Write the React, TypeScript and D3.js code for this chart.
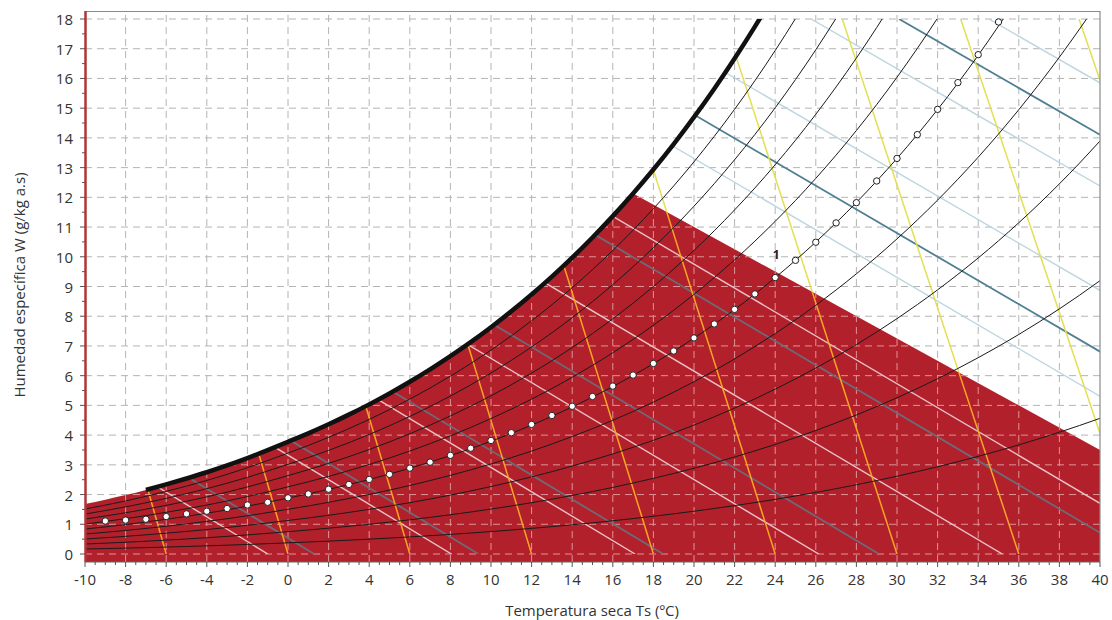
import React from "react";
import * as d3 from "d3";

// ---------- data ----------
const TEMP_TICKS = [-10, -8, -6, -4, -2, 0, 2, 4, 6, 8, 10, 12, 14, 16, 18, 20, 22, 24, 26, 28, 30, 32, 34, 36, 38, 40];
const W_TICKS = [0, 1, 2, 3, 4, 5, 6, 7, 8, 9, 10, 11, 12, 13, 14, 15, 16, 17, 18];

// dry-bulb temperature nodes (°C) and saturation vapour pressure (kPa) at each node
const TEMPS = [-10, -9, -8, -7, -6, -5, -4, -3, -2, -1, 0, 1, 2, 3, 4, 5, 6, 7, 8, 9, 10, 11, 12, 13, 14, 15, 16, 17, 18, 19, 20, 21, 22, 23, 24, 25, 26, 27, 28, 29, 30, 31, 32, 33, 34, 35, 36, 37, 38, 39, 40];
const SAT_PRESSURE = [0.273, 0.297, 0.322, 0.35, 0.38, 0.412, 0.446, 0.483, 0.523, 0.566, 0.6112, 0.6571, 0.706, 0.7581, 0.8135, 0.8725, 0.9353, 1.002, 1.0729, 1.1481, 1.2281, 1.3129, 1.4027, 1.4979, 1.5988, 1.7056, 1.8185, 1.938, 2.0644, 2.1978, 2.3388, 2.4877, 2.6447, 2.8104, 2.985, 3.169, 3.3629, 3.567, 3.7818, 4.0078, 4.2455, 4.4953, 4.7578, 5.0335, 5.3229, 5.6267, 5.9453, 6.2795, 6.6298, 6.9969, 7.3814];

// relative humidity curves (%)
const RH_LEVELS = [10, 20, 30, 40, 50, 60, 70, 80, 90];
// wet-bulb lines (°C) - dark
const WB_LEVELS = [-5, 0, 5, 10, 15, 20, 25];
// enthalpy lines (kJ/kg) - light
const ENTHALPY_LEVELS = [-1, 8.1, 17.2, 26.3, 35.4, 44.5, 53.6, 62.7, 71.8, 80.9];
// specific-volume lines: dry-bulb temperature where they meet W = 0
const VOLUME_BASE_T = [-6, 0, 6, 12, 18, 24, 30, 36, 42, 48];

// process points (°C, g/kg)
const DOT_T = [-9, -8, -7, -6, -5, -4, -3, -2, -1, 0, 1, 2, 3, 4, 5, 6, 7, 8, 9, 10, 11, 12, 13, 14, 15, 16, 17, 18, 19, 20, 21, 22, 23, 24, 25, 26, 27, 28, 29, 30, 31, 32, 33, 34, 35];
const DOT_W = [1.11, 1.14, 1.17, 1.26, 1.35, 1.44, 1.53, 1.65, 1.74, 1.89, 2.02, 2.18, 2.34, 2.51, 2.68, 2.89, 3.09, 3.32, 3.56, 3.82, 4.08, 4.36, 4.66, 4.97, 5.3, 5.65, 6.02, 6.41, 6.83, 7.27, 7.74, 8.23, 8.75, 9.3, 9.88, 10.49, 11.14, 11.82, 12.55, 13.31, 14.11, 14.96, 15.86, 16.8, 17.9];
const POINT_LABEL_T = 24;
const POINT_LABEL_TEXT = "1";

// red zone: bounded by saturation up to this temperature, then a straight edge to the right border
const ZONE_APEX_T = 17;
const ZONE_RIGHT_W = 3.5;

// ---------- layout ----------
const WIDTH = 1112;
const HEIGHT = 620;
const LEFT = 85;
const RIGHT = 1100;
const TOP = 11;
const BOTTOM = 562;
const FONT = "'Open Sans', 'DejaVu Sans', sans-serif";

const x = d3.scaleLinear().domain([-10, 40]).range([LEFT, RIGHT]);
const y = d3.scaleLinear().domain([0, 18]).range([554, 19]);

const P_ATM = 101.325;
const wFromPw = (pw: number) => (622 * pw) / (P_ATM - pw);
const pwsAt = (t: number) => SAT_PRESSURE[TEMPS.indexOf(t)];
const satW = (t: number) => wFromPw(pwsAt(t));

const curve = d3
  .line<[number, number]>()
  .x((d) => x(d[0]))
  .y((d) => y(d[1]))
  .curve(d3.curveMonotoneX);
const straight = d3
  .line<[number, number]>()
  .x((d) => x(d[0]))
  .y((d) => y(d[1]));

// saturation polyline pieces
const satTo17 = TEMPS.filter((t) => t <= ZONE_APEX_T).map((t) => [t, satW(t)] as [number, number]);
const satTo24 = TEMPS.filter((t) => t <= 24).map((t) => [t, satW(t)] as [number, number]);
const satThick = TEMPS.filter((t) => t >= -7 && t <= 24).map((t) => [t, satW(t)] as [number, number]);

const redD =
  `M${x(-10)},${BOTTOM}L` +
  (curve(satTo17) as string).slice(1) +
  `L${x(40)},${y(ZONE_RIGHT_W)}L${x(40)},${BOTTOM}Z`;
const unsatD =
  `M${x(-10)},${BOTTOM + 5}L` +
  (curve(satTo24) as string).slice(1) +
  `L${x(40) + 5},${y(satW(24))}L${x(40) + 5},${BOTTOM + 5}Z`;
const nonRedD = `M${LEFT - 5},${TOP - 5}H${RIGHT + 5}V${BOTTOM + 5}H${LEFT - 5}Z` + redD;

// straight line segments between W = 0 and W = 18
const enthalpySeg = (h: number): [number, number][] => [
  [h / 1.006, 0],
  [(h - 0.018 * 2501) / (1.006 + 0.018 * 1.86), 18],
];
const hSat = (t: number) => {
  const w = satW(t) / 1000;
  return 1.006 * t + w * (2501 + 1.86 * t);
};
const volumeSeg = (t0: number): [number, number][] => [
  [t0, 0],
  [(t0 + 273.15) / (1 + 1.6078 * 0.018) - 273.15, 18],
];

const enthalpyPaths = ENTHALPY_LEVELS.map((h) => straight(enthalpySeg(h)) as string);
const wbPaths = WB_LEVELS.map((t) => straight(enthalpySeg(hSat(t))) as string);
const volumePaths = VOLUME_BASE_T.map((t0) => straight(volumeSeg(t0)) as string);
const rhPaths = RH_LEVELS.map(
  (rh) => curve(TEMPS.map((t) => [t, wFromPw((rh / 100) * pwsAt(t))] as [number, number])) as string
);

const xMinor = d3.range(-10, 40.01, 0.5);
const yMinor = d3.range(0, 18.01, 0.5);

function LineSet({ variant }: { variant: "red" | "white" }) {
  const inRed = variant === "red";
  return (
    <g>
      {enthalpyPaths.map((d, i) => (
        <path key={"h" + i} d={d} fill="none" stroke={inRed ? "#e9c3c9" : "#bcd5df"} strokeWidth={1.4} />
      ))}
      {wbPaths.map((d, i) => (
        <path key={"w" + i} d={d} fill="none" stroke={inRed ? "#6e6a77" : "#4f7f93"} strokeWidth={1.8} />
      ))}
      {volumePaths.map((d, i) => (
        <path key={"v" + i} d={d} fill="none" stroke={inRed ? "#f6a623" : "#e4df52"} strokeWidth={1.5} />
      ))}
    </g>
  );
}

export default function App() {
  const dots = DOT_T.map((t, i) => ({ t, w: DOT_W[i] }));
  const labelDot = dots.find((d) => d.t === POINT_LABEL_T)!;
  return (
    <div style={{ position: "absolute", left: 0, top: 0 }}>
      <svg width={WIDTH} height={HEIGHT} style={{ display: "block", background: "#fff" }}>
        <defs>
          <clipPath id="lineArea">
            <rect x={LEFT} y={y(18)} width={RIGHT - LEFT} height={y(0) - y(18)} />
          </clipPath>
          <clipPath id="unsat">
            <path d={unsatD} />
          </clipPath>
          <clipPath id="red">
            <path d={redD} />
          </clipPath>
          <clipPath id="nonred">
            <path d={nonRedD} clipRule="evenodd" />
          </clipPath>
        </defs>

        {/* grid (white area) */}
        <g stroke="#b4b4b4" strokeWidth={1} strokeDasharray="7,5">
          {TEMP_TICKS.filter((t) => t > -10 && t < 40).map((t) => (
            <line key={"gx" + t} x1={x(t)} x2={x(t)} y1={TOP + 4} y2={BOTTOM} />
          ))}
          {W_TICKS.map((w) => (
            <line key={"gy" + w} x1={LEFT} x2={RIGHT} y1={y(w)} y2={y(w)} />
          ))}
        </g>

        {/* red zone */}
        <path d={redD} fill="#b2202b" />

        {/* grid inside red zone */}
        <g clipPath="url(#red)" stroke="#dc9499" strokeWidth={1} strokeDasharray="7,5">
          {TEMP_TICKS.filter((t) => t > -10 && t < 40).map((t) => (
            <line key={"rx" + t} x1={x(t)} x2={x(t)} y1={TOP + 4} y2={BOTTOM} />
          ))}
          {W_TICKS.map((w) => (
            <line key={"ry" + w} x1={LEFT} x2={RIGHT} y1={y(w)} y2={y(w)} />
          ))}
        </g>

        {/* enthalpy, wet-bulb and specific volume lines */}
        <g clipPath="url(#lineArea)">
          <g clipPath="url(#unsat)">
            <g clipPath="url(#nonred)">
              <LineSet variant="white" />
            </g>
            <g clipPath="url(#red)">
              <LineSet variant="red" />
            </g>
          </g>
        </g>

        {/* relative humidity curves */}
        <g clipPath="url(#lineArea)">
          {rhPaths.map((d, i) => (
            <path key={"rh" + i} d={d} fill="none" stroke="#1a1a1a" strokeWidth={1} />
          ))}
          <path d={curve(satThick) as string} fill="none" stroke="#111" strokeWidth={4.5} />
        </g>

        {/* process points */}
        {dots.map((d) => (
          <circle key={"d" + d.t} cx={x(d.t)} cy={y(d.w)} r={3.2} fill="#fff" stroke="#222" strokeWidth={1} />
        ))}
        <text
          x={x(labelDot.t) + 1}
          y={y(labelDot.w) - 19}
          textAnchor="middle"
          fontFamily={FONT}
          fontWeight={700}
          fontSize={12}
          fill="#222"
        >
          {POINT_LABEL_TEXT}
        </text>

        {/* frame */}
        <line x1={LEFT} x2={RIGHT} y1={TOP + 0.5} y2={TOP + 0.5} stroke="#8a8a8a" strokeWidth={1.2} />
        <line x1={RIGHT} x2={RIGHT} y1={TOP} y2={BOTTOM} stroke="#8a8a8a" strokeWidth={1.2} />

        {/* x axis */}
        <line x1={LEFT} x2={RIGHT} y1={BOTTOM} y2={BOTTOM} stroke="#666" strokeWidth={1.2} />
        {xMinor.map((t) => {
          const major = Math.abs(t / 2 - Math.round(t / 2)) < 1e-6;
          return (
            <line key={"xt" + t} x1={x(t)} x2={x(t)} y1={BOTTOM} y2={BOTTOM + (major ? 5 : 3)} stroke="#555" strokeWidth={1} />
          );
        })}
        {TEMP_TICKS.map((t) => (
          <text
            key={"xl" + t}
            x={x(t)}
            y={579}
            textAnchor="middle"
            dominantBaseline="central"
            fontFamily={FONT}
            fontSize={15}
            fill="#333"
          >
            {String(t)}
          </text>
        ))}
        <text x={592} y={610} textAnchor="middle" dominantBaseline="central" fontFamily={FONT} fontSize={15} fill="#333">
          Temperatura seca Ts (ºC)
        </text>

        {/* y axis */}
        {yMinor.map((w) => {
          const major = Math.abs(w - Math.round(w)) < 1e-6;
          return (
            <line key={"yt" + w} x1={LEFT - (major ? 5 : 3)} x2={LEFT} y1={y(w)} y2={y(w)} stroke="#555" strokeWidth={1} />
          );
        })}
        <line x1={LEFT + 0.5} x2={LEFT + 0.5} y1={TOP} y2={BOTTOM} stroke="#b0343a" strokeWidth={2.5} />
        {W_TICKS.map((w) => (
          <text
            key={"yl" + w}
            x={73}
            y={y(w)}
            textAnchor="end"
            dominantBaseline="central"
            fontFamily={FONT}
            fontSize={15}
            fill="#333"
          >
            {String(w)}
          </text>
        ))}
        <text
          transform={`translate(19,${285}) rotate(-90)`}
          textAnchor="middle"
          dominantBaseline="central"
          fontFamily={FONT}
          fontSize={15}
          fill="#333"
        >
          Humedad específica W (g/kg a.s)
        </text>
      </svg>
    </div>
  );
}
